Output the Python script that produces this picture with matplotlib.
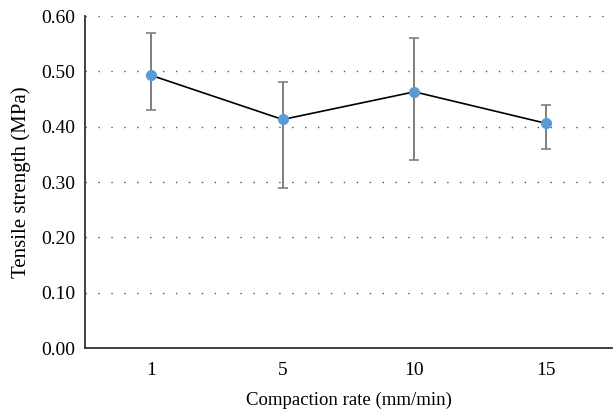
import matplotlib.pyplot as plt
import numpy as np

rates = ['1', '5', '10', '15']
strength = [0.493, 0.413, 0.463, 0.406]
err_low = [0.43, 0.29, 0.34, 0.36]
err_high = [0.57, 0.48, 0.56, 0.44]

plt.rcParams['font.family'] = ['Liberation Serif', 'DejaVu Serif']

fig = plt.figure(figsize=(6.13, 4.15), dpi=100)
ax = fig.add_axes([0.1387, 0.1614, 0.8597, 0.8])

x = np.arange(len(rates))
yerr = [np.array(strength) - np.array(err_low), np.array(err_high) - np.array(strength)]

ax.errorbar(x, strength, yerr=yerr, fmt='none', ecolor='#7f7f7f',
            elinewidth=1.4, capsize=3.5, capthick=1.2, zorder=2)
ax.plot(x, strength, color='black', linewidth=1.2, zorder=3)
ax.plot(x, strength, 'o', color='#5b9bd5', markersize=7, zorder=4)

ax.set_xlim(-0.5, len(rates) - 0.5)
ax.set_ylim(0, 0.6)
ax.set_xticks(x)
ax.set_xticklabels(rates)
ax.set_yticks(np.arange(0, 0.61, 0.1))
ax.set_yticklabels([f'{v:.2f}' for v in np.arange(0, 0.61, 0.1)])
ax.tick_params(length=0, labelsize=14, pad=10)
ax.tick_params(axis='y', pad=7)

for v in np.arange(0.1, 0.61, 0.1):
    ax.axhline(v, color='#555555', linestyle=(0, (1, 8.3)), linewidth=1.0, zorder=1)

for s in ['top', 'right']:
    ax.spines[s].set_visible(False)
for s in ['left', 'bottom']:
    ax.spines[s].set_color('#333333')
    ax.spines[s].set_linewidth(1.3)

ax.set_xlabel('Compaction rate (mm/min)', fontsize=13.5, labelpad=9)
ax.set_ylabel('Tensile strength (MPa)', fontsize=15, labelpad=7)

fig.savefig('out.png', dpi=100)
